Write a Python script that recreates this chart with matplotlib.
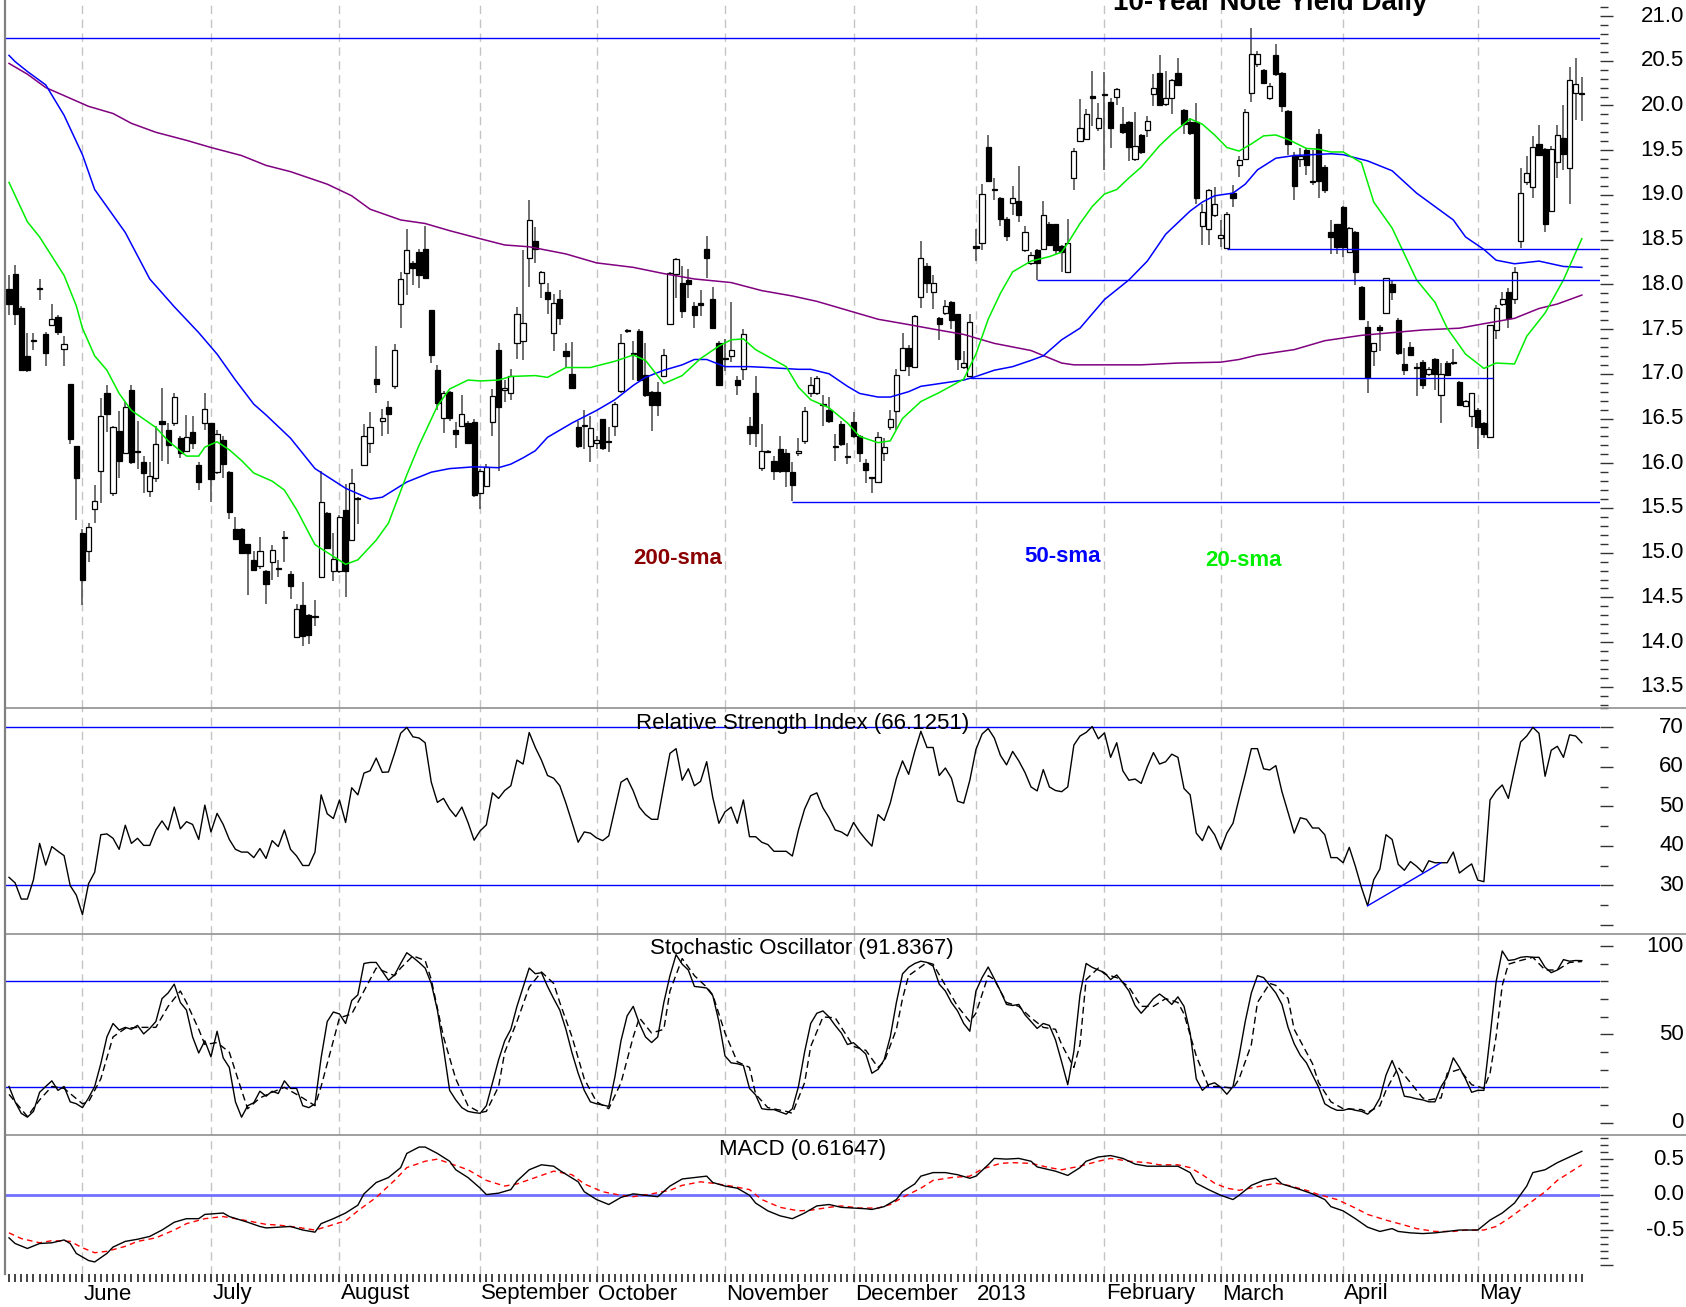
import numpy as np
import matplotlib
matplotlib.use("Agg")
import matplotlib.pyplot as plt
from matplotlib.lines import Line2D
from matplotlib import transforms

plt.rcParams['font.family'] = ['Liberation Sans', 'DejaVu Sans']

# ---------------- data ----------------
title = "10-Year Note Yield Daily"
month_labels = ["June", "July", "August", "September", "October", "November",
                "December", "2013", "February", "March", "April", "May"]
month_start = [12, 33, 54, 77, 96, 117, 138, 158, 179, 198, 218, 240]

opens = [17.95,18.12,17.73,17.20,17.37,17.95,17.45,17.55,17.63,17.28,
16.89,16.19,15.22,15.02,15.49,15.91,16.78,15.67,16.36,16.12,
16.82,16.13,16.01,15.69,15.84,16.47,16.37,16.45,16.28,16.14,
16.35,15.98,16.45,16.45,15.90,16.26,15.90,15.26,15.26,15.10,
14.92,14.85,14.79,14.90,14.82,15.16,14.76,14.06,14.42,14.30,
14.28,14.73,15.44,14.80,14.80,15.48,15.14,15.60,15.98,16.23,
16.94,16.47,16.63,16.86,17.78,18.13,18.24,18.36,18.39,17.71,
17.04,16.51,16.80,16.37,16.42,16.45,16.46,15.67,15.74,16.46,
17.27,16.82,16.78,17.34,17.37,18.29,18.48,18.01,17.92,17.46,
17.84,17.26,17.00,16.41,16.42,16.19,16.23,16.49,16.24,16.42,
16.81,17.48,17.22,17.48,16.99,16.80,16.80,16.98,17.56,18.12,
18.01,18.05,17.76,17.79,18.40,17.84,17.34,17.17,17.20,16.93,
17.05,16.42,16.78,15.95,16.13,16.02,16.16,16.12,15.90,16.12,
16.25,16.78,16.78,16.65,16.60,16.18,16.44,16.07,16.46,16.31,
16.00,15.83,15.79,16.12,16.41,16.58,17.04,17.29,17.08,17.86,
18.21,17.92,17.62,17.68,17.80,17.67,17.08,16.98,18.43,18.46,
19.54,19.05,18.97,18.73,18.91,18.93,18.38,18.24,18.38,18.40,
18.68,18.67,18.43,18.14,19.19,19.60,19.62,20.11,19.75,20.12,
20.04,20.09,19.79,19.82,19.40,19.67,19.73,20.13,20.36,20.02,
20.08,20.36,19.95,19.82,19.82,18.65,18.62,18.77,18.52,18.41,
19.02,19.33,19.40,20.14,20.46,20.40,20.08,20.56,20.36,19.94,
19.45,19.40,19.50,19.14,19.68,19.31,18.58,18.67,18.87,18.36,
18.59,17.97,17.52,17.25,17.52,17.68,18.00,17.60,17.11,17.30,
17.08,17.13,17.00,17.17,16.76,17.12,17.12,16.91,16.64,16.53,
16.60,16.45,16.29,17.49,17.78,17.92,17.84,18.49,19.14,19.09,
19.57,19.51,18.82,19.37,19.64,19.30,20.14,20.13]

highs = [18.10,18.22,17.76,17.46,17.46,18.06,17.47,17.78,17.66,17.42,
16.89,16.19,15.26,15.33,15.76,16.73,16.87,16.42,16.58,16.69,
16.87,16.47,16.08,16.01,16.42,16.84,16.45,16.79,16.30,16.54,
16.53,16.01,16.78,16.45,16.37,16.30,15.91,15.40,15.28,15.10,
15.02,15.18,14.81,15.09,14.92,15.24,14.79,14.43,14.67,14.32,
14.47,15.91,15.45,15.22,15.42,15.77,15.94,15.62,16.44,16.57,
17.31,16.61,16.70,17.33,18.14,18.62,18.26,18.39,18.65,17.71,
17.10,16.81,16.81,16.46,16.76,16.47,16.50,15.94,15.99,16.83,
17.34,16.93,17.05,17.75,18.38,18.94,18.64,18.15,18.02,17.89,
17.94,17.34,17.36,16.47,16.59,16.53,16.30,16.50,16.40,16.69,
17.45,17.50,17.37,17.50,17.34,16.81,16.91,17.28,18.14,18.29,
18.20,18.17,17.80,17.94,18.54,17.97,17.37,17.39,17.80,16.97,
17.50,16.52,16.98,16.44,16.15,16.08,16.31,16.16,16.01,16.28,
16.63,16.96,16.97,16.76,16.74,16.33,16.47,16.23,16.57,16.32,
16.05,15.84,16.35,16.28,16.59,17.05,17.46,17.32,17.66,18.48,
18.24,18.10,17.63,17.83,17.81,17.67,17.25,17.67,18.62,19.12,
19.67,19.19,18.98,18.75,19.10,19.32,18.65,18.36,18.39,18.93,
18.70,18.68,18.44,18.73,19.52,20.07,19.96,20.38,20.03,20.37,
20.08,20.20,19.98,19.83,19.93,19.68,19.88,20.35,20.56,20.38,
20.30,20.53,19.96,19.86,20.03,18.90,19.07,19.09,18.72,18.81,
19.11,19.44,19.96,20.87,20.61,20.41,20.25,20.69,20.37,19.95,
19.48,19.52,19.52,19.50,19.74,19.33,18.72,18.68,18.88,18.64,
18.60,17.98,17.59,17.34,17.54,18.07,18.05,17.62,17.29,17.36,
17.12,17.15,17.08,17.18,17.12,17.14,17.28,16.92,16.71,16.79,
16.62,16.46,17.55,17.77,17.91,17.96,18.19,19.30,19.43,19.66,
19.78,19.52,19.55,19.78,20.01,20.43,20.53,20.32]

lows = [17.66,17.54,17.03,17.02,17.27,17.83,17.09,17.54,17.43,17.09,
16.21,15.36,14.42,14.90,15.33,15.56,16.35,15.63,15.84,16.11,
15.99,15.94,15.67,15.62,15.79,16.03,15.99,16.42,16.06,16.13,
16.16,15.70,16.37,15.57,15.88,15.84,15.38,15.14,14.99,14.53,
14.80,14.82,14.43,14.70,14.73,14.90,14.48,14.05,13.96,13.98,
14.18,14.73,15.05,14.68,14.77,14.51,15.13,15.32,15.98,16.11,
16.78,16.31,16.33,16.83,17.51,17.88,17.99,17.96,18.06,17.12,
16.60,16.34,16.47,16.17,16.40,16.21,15.62,15.49,15.73,16.30,
15.91,16.69,16.71,17.16,17.15,17.97,18.24,17.85,17.67,17.25,
17.54,17.08,16.83,16.17,16.16,16.01,16.16,16.15,16.13,16.30,
16.79,17.46,16.93,16.92,16.74,16.36,16.53,16.97,17.56,17.85,
17.62,17.85,17.51,17.65,18.07,17.50,16.86,17.03,17.13,16.76,
16.93,16.20,16.18,15.91,16.11,15.81,15.89,15.73,15.58,16.08,
16.21,16.74,16.76,16.42,16.45,16.03,16.19,15.99,16.28,16.01,
15.78,15.67,15.79,16.02,16.37,16.37,17.03,16.97,17.07,17.73,
17.90,17.72,17.38,17.66,17.50,17.04,17.05,16.97,18.26,18.38,
19.14,18.94,18.65,18.48,18.77,18.70,18.36,18.22,18.05,18.38,
18.43,18.34,18.14,18.13,19.06,19.59,19.61,19.77,19.72,19.28,
19.52,20.01,19.68,19.38,19.38,19.46,19.65,19.99,20.01,19.99,
19.91,20.22,19.68,19.67,18.90,18.44,18.44,18.75,18.42,18.40,
18.87,19.20,19.39,20.04,20.43,20.24,20.06,20.33,19.93,19.45,
18.94,19.31,19.22,19.11,18.97,19.02,18.34,18.34,18.31,18.35,
17.99,17.60,16.79,17.09,17.25,17.67,17.83,17.21,16.99,17.20,
16.75,16.83,16.98,16.82,16.45,16.98,17.10,16.64,16.63,16.40,
16.16,16.28,16.28,17.39,17.76,17.51,17.78,18.41,19.11,18.97,
19.43,18.59,18.81,19.19,19.28,18.90,19.84,19.83]

closes = [17.78,17.67,17.04,17.04,17.37,17.95,17.23,17.61,17.47,17.33,
16.27,15.83,14.69,15.29,15.58,16.53,16.55,16.40,16.02,16.63,
16.01,16.13,15.89,15.86,16.22,16.44,16.20,16.74,16.11,16.29,
16.23,15.79,16.61,15.82,16.33,15.99,15.45,15.15,15.00,15.00,
14.81,15.02,14.65,15.03,14.82,15.16,14.63,14.37,14.07,14.08,
14.29,15.57,15.05,14.93,15.40,14.80,15.78,15.60,16.30,16.41,
16.89,16.51,16.55,17.27,18.06,18.38,18.18,18.10,18.07,17.21,
16.67,16.79,16.51,16.33,16.55,16.23,15.64,15.91,15.96,16.75,
16.63,16.84,16.97,17.67,17.57,18.72,18.40,18.14,17.84,17.79,
17.62,17.20,16.84,16.19,16.42,16.39,16.26,16.17,16.24,16.66,
17.34,17.48,17.22,16.93,16.76,16.65,16.65,17.21,18.13,18.28,
17.70,18.00,17.66,17.77,18.30,17.51,16.87,17.17,17.27,16.87,
17.44,16.34,16.34,16.14,16.13,15.91,15.91,15.91,15.76,16.12,
16.58,16.88,16.95,16.65,16.47,16.18,16.22,16.07,16.30,16.11,
15.92,15.83,16.29,16.18,16.50,16.99,17.29,17.09,17.65,18.29,
18.02,18.02,17.56,17.76,17.60,17.17,17.12,17.58,18.41,19.01,
19.16,19.05,18.73,18.54,18.97,18.77,18.59,18.33,18.24,18.77,
18.44,18.38,18.36,18.46,19.49,19.75,19.90,20.08,19.86,20.12,
19.75,20.18,19.70,19.53,19.55,19.48,19.83,20.20,20.01,20.08,
20.28,20.23,19.79,19.69,18.97,18.81,19.05,18.90,18.55,18.79,
18.97,19.39,19.93,20.58,20.58,20.25,20.22,20.35,19.99,19.57,
19.10,19.44,19.33,19.16,19.16,19.06,18.53,18.42,18.42,18.63,
18.14,17.61,16.96,17.34,17.49,18.07,17.92,17.23,17.04,17.21,
17.06,16.87,17.05,17.00,17.00,16.99,17.12,16.65,16.70,16.78,
16.41,16.33,17.54,17.73,17.84,17.62,18.14,19.02,19.25,19.54,
19.45,18.67,19.51,19.67,19.46,20.29,20.24,20.13]

# moving averages (day index, value)
sma20_idx = [0,3,5,9,11,12,14,16,18,20,24,26,29,31,32,34,36,38,40,43,45,47,50,55,57,60,62,65,67,70,
             72,75,77,80,82,86,88,91,95,99,102,104,107,110,113,116,118,120,122,127,129,131,134,137,139,142,144,146,149,152,
             156,158,160,162,164,167,170,172,173,175,177,179,181,183,185,188,190,193,195,197,199,201,203,205,207,209,212,214,216,218,
             221,223,226,228,230,233,235,238,241,243,246,248,251,254,257]
sma20_val = [19.14,18.70,18.53,18.10,17.76,17.51,17.20,17.04,16.78,16.59,16.40,16.25,16.08,16.08,16.18,16.24,16.15,16.03,15.89,15.80,
             15.70,15.48,15.09,14.87,14.92,15.14,15.33,15.87,16.20,16.64,16.83,16.93,16.92,16.93,16.97,16.98,16.96,17.07,17.07,17.14,
             17.21,17.15,16.89,16.98,17.17,17.31,17.38,17.39,17.27,17.08,16.85,16.71,16.62,16.45,16.30,16.23,16.25,16.50,16.69,16.79,
             16.94,17.22,17.61,17.90,18.14,18.26,18.31,18.36,18.46,18.68,18.87,19.01,19.06,19.19,19.31,19.55,19.68,19.85,19.79,19.67,
             19.53,19.49,19.57,19.66,19.67,19.62,19.52,19.51,19.48,19.48,19.36,18.92,18.63,18.34,18.05,17.80,17.51,17.22,17.06,17.12,
             17.11,17.42,17.68,18.05,18.51]

sma50_idx = [0,1,3,6,9,12,14,19,23,27,31,34,37,40,42,46,50,55,59,61,65,69,72,76,80,82,84,86,88,92,
             96,99,102,104,107,110,112,114,117,121,124,129,131,134,137,139,142,144,147,149,152,156,158,161,164,167,169,172,175,179,
             183,186,189,193,195,197,200,202,204,207,210,213,216,218,222,226,230,236,238,241,243,246,250,254,257]
sma50_val = [20.56,20.49,20.38,20.23,19.89,19.45,19.06,18.58,18.06,17.75,17.46,17.22,16.93,16.66,16.54,16.28,15.94,15.72,15.60,15.62,
             15.79,15.90,15.94,15.96,15.95,15.99,16.06,16.14,16.29,16.45,16.59,16.71,16.87,16.96,17.04,17.10,17.16,17.16,17.08,17.08,
             17.07,17.05,17.05,17.00,16.86,16.78,16.74,16.74,16.80,16.86,16.89,16.93,16.97,17.04,17.08,17.15,17.20,17.38,17.51,17.83,
             18.05,18.26,18.56,18.82,18.92,18.99,19.02,19.12,19.28,19.41,19.44,19.45,19.46,19.45,19.38,19.27,19.02,18.72,18.53,18.39,
             18.27,18.23,18.26,18.20,18.19]

sma200_idx = [0,3,6,9,13,17,20,24,29,33,38,42,46,52,56,59,64,68,72,77,81,85,91,96,102,107,112,118,123,128,
              132,137,142,147,151,156,161,167,172,174,179,185,191,198,201,204,210,215,221,226,231,237,241,246,250,253,257]
sma200_val = [20.47,20.35,20.20,20.11,19.99,19.91,19.80,19.70,19.61,19.53,19.44,19.33,19.26,19.12,18.99,18.84,18.72,18.68,18.60,18.51,
              18.44,18.42,18.34,18.24,18.19,18.12,18.06,18.02,17.93,17.87,17.81,17.71,17.61,17.55,17.50,17.44,17.34,17.26,17.12,17.10,
              17.10,17.10,17.12,17.13,17.16,17.21,17.27,17.37,17.43,17.46,17.49,17.51,17.56,17.62,17.73,17.78,17.88]

# horizontal support / resistance levels: (level, start index, end index or None = to the edge)
levels = [(20.75, None, None), (18.40, 199, None), (18.05, 168, None),
          (16.95, 157, 242.5), (15.57, 128, None)]

rsi = [32.0,30.6,26.5,26.5,31.4,40.6,35.1,39.8,38.6,37.5,
29.9,27.5,22.6,30.4,33.3,42.8,43.0,41.9,39.1,45.2,
40.6,41.9,40.1,40.1,44.0,46.3,44.0,49.8,44.3,46.1,
45.4,41.6,50.3,43.5,48.2,45.4,41.6,39.1,38.4,38.4,
37.0,39.3,36.8,41.3,39.8,44.0,39.1,37.4,35.0,35.0,
38.4,52.9,48.1,46.9,51.6,45.9,54.7,52.9,58.4,59.0,
62.2,58.6,58.7,63.4,68.5,70.0,67.6,67.3,66.1,56.1,
51.0,52.0,49.3,47.4,49.8,45.9,41.4,43.8,45.3,53.4,
52.0,54.0,55.2,61.7,60.7,68.7,64.9,61.7,57.8,57.1,
55.2,50.8,45.9,40.9,43.5,43.2,42.0,41.3,42.5,49.3,
56.1,57.1,53.9,49.8,47.9,46.7,46.7,55.2,63.4,64.6,
56.6,59.5,55.2,56.3,61.3,52.2,45.7,48.6,49.8,45.7,
51.6,42.3,42.3,40.9,40.3,38.6,38.6,38.6,37.4,44.0,
49.3,52.7,53.4,49.6,47.1,44.0,43.5,42.5,45.9,43.5,
41.6,39.9,47.9,46.4,50.8,57.1,61.5,58.1,63.9,69.0,
64.9,64.9,57.8,59.7,57.1,51.3,50.8,56.6,64.4,68.3,
69.7,67.3,62.9,60.5,63.9,61.5,58.6,54.9,53.9,59.3,
54.9,54.0,53.7,54.9,65.5,67.8,68.7,70.2,67.1,68.6,
62.4,66.1,59.0,56.6,56.9,55.8,60.0,63.6,60.7,61.3,
63.2,62.4,54.5,52.9,43.2,41.3,45.0,42.8,39.1,43.2,
45.7,52.0,58.1,64.6,64.6,59.5,59.2,60.3,53.7,48.4,
43.2,47.1,46.7,44.5,44.5,42.8,37.0,37.0,35.7,39.6,
34.8,29.4,24.8,31.4,34.1,42.8,41.6,35.3,33.8,36.0,
34.8,33.3,36.2,35.7,35.7,35.7,38.4,33.1,34.3,35.4,
31.3,30.9,51.6,53.9,55.4,52.0,59.3,66.3,67.8,70.0,
68.5,57.6,64.2,65.2,62.4,68.1,67.8,66.1]
rsi_trend = ([222, 234], [24.8, 35.7])

stoch_k = [20.5,11.8,5.3,3.1,6.4,17.2,20.5,23.7,18.3,20.5,
11.8,10.7,8.5,14.0,20.5,33.4,48.6,56.2,52.5,54.0,
52.9,55.1,50.3,53.4,57.3,70.3,73.5,78.5,68.1,63.8,
48.6,39.5,46.4,37.3,51.8,36.7,31.3,11.8,3.1,9.6,
11.3,17.8,15.0,17.8,16.5,23.7,19.4,19.4,9.6,8.5,
10.7,36.7,57.3,62.7,61.6,56.2,69.2,72.4,90.2,90.8,
90.8,85.8,80.7,83.7,90.2,96.3,93.7,90.8,87.6,78.9,
63.8,42.1,18.3,12.9,8.5,6.4,5.7,5.3,9.6,22.6,
35.6,46.4,52.9,65.9,76.8,87.6,84.4,85.0,77.2,70.3,
63.8,52.9,39.5,28.0,18.3,11.8,10.7,10.0,9.2,25.9,
46.4,60.5,65.9,56.2,48.6,45.4,48.6,68.1,83.3,95.2,
89.8,86.5,77.2,76.8,76.3,72.0,57.3,37.8,33.9,33.4,
32.4,19.4,15.7,7.9,7.4,7.4,6.1,4.8,7.9,20.5,
40.0,56.2,62.0,63.3,59.9,55.1,50.8,44.3,45.3,42.1,
38.9,28.0,30.2,35.6,48.6,68.1,84.3,88.0,90.2,91.5,
90.8,88.7,78.5,74.6,68.1,63.3,56.2,51.8,74.6,82.2,
88.2,81.5,74.6,67.0,66.4,67.0,61.2,57.3,53.4,56.2,
55.1,46.9,34.5,21.5,40.4,72.4,90.2,88.0,86.5,85.0,
81.1,83.7,79.4,74.6,66.4,62.0,65.9,70.3,72.9,70.3,
67.0,71.3,65.9,50.8,24.8,18.3,21.5,22.6,20.0,16.1,
20.4,37.8,57.3,73.5,83.3,82.2,77.8,73.5,67.0,54.0,
44.7,38.2,33.9,26.9,20.0,10.7,8.5,7.0,7.0,7.9,
7.0,6.4,4.8,7.9,13.9,26.9,35.2,26.9,15.0,14.4,
13.5,12.9,11.8,11.8,20.4,25.9,36.7,31.3,24.8,17.2,
18.3,18.3,48.6,80.0,97.3,91.9,92.4,93.7,94.1,93.7,
93.7,88.0,85.0,86.5,92.4,91.5,91.9,91.8]

stoch_d_idx = [0,3,5,7,9,12,13,15,17,19,21,24,26,28,29,31,32,34,36,38,39,41,43,45,48,50,51,53,54,56,
               57,59,60,63,64,66,68,69,71,73,75,77,78,80,81,83,85,87,89,90,92,94,96,98,100,102,103,105,107,108,
               110,112,114,115,117,119,121,122,124,127,128,130,131,133,135,136,138,140,142,143,145,146,147,150,151,153,155,157,158,160,
               161,163,165,167,169,171,172,174,175,176,178,179,181,183,185,187,189,191,192,194,196,198,200,201,203,204,206,207,209,210,
               213,214,216,218,221,222,224,225,226,227,229,231,232,234,235,237,239,241,242,243,244,245,247,249,251,253,255,257]
stoch_d_val = [16.0,3.5,12.9,20.5,19.4,10.7,11.8,24.8,48.6,53.4,54.0,54.0,65.9,74.6,68.1,52.9,44.3,45.4,39.9,18.3,
               7.9,14.0,17.2,20.0,14.0,9.6,20.5,46.4,59.4,61.6,68.1,81.1,87.6,83.3,87.6,94.5,91.9,81.1,48.6,24.8,
               9.6,5.7,6.4,20.5,39.9,57.3,76.8,85.4,78.9,68.1,48.6,24.8,11.8,7.9,22.6,48.6,59.4,50.8,52.9,74.6,
               93.0,83.3,76.8,72.4,50.8,34.5,31.3,16.1,8.5,6.4,5.3,22.6,43.2,59.9,59.4,54.0,43.2,41.0,31.3,34.5,
               52.9,70.3,83.3,90.8,89.8,77.8,65.9,57.3,62.0,83.3,81.1,68.1,65.9,59.4,54.0,52.9,44.3,31.3,44.3,81.1,
               87.6,84.3,82.2,76.8,65.9,65.9,70.3,68.1,61.6,37.8,20.5,20.5,19.4,24.8,44.3,68.1,78.9,77.8,70.3,52.9,
               33.4,22.6,11.8,7.9,7.4,5.7,9.6,18.3,24.8,31.3,22.6,14.0,12.9,14.0,28.0,30.2,21.5,19.4,28.0,49.0,
               77.8,89.8,91.9,93.7,86.5,86.5,90.8,91.3]

macd_idx = [0,1,3,5,7,9,10,11,13,14,16,17,19,21,23,25,27,29,31,32,35,36,39,41,42,44,46,48,50,51,
            53,55,57,58,60,62,64,65,67,68,70,72,73,75,77,78,80,82,83,85,87,89,90,93,94,96,98,100,102,104,
            106,108,110,112,114,115,117,119,121,122,124,126,128,130,132,134,136,138,140,141,143,145,146,148,149,151,153,155,157,158,
            160,161,163,165,167,168,171,173,175,176,178,180,182,184,186,188,191,193,194,196,198,200,201,203,205,207,208,211,213,215,
            216,218,220,222,224,226,227,229,231,233,235,237,238,240,242,244,246,248,249,251,253,255,257]
macd_val = [-0.61,-0.69,-0.76,-0.69,-0.68,-0.64,-0.69,-0.83,-0.93,-0.95,-0.83,-0.74,-0.66,-0.63,-0.59,-0.50,-0.39,-0.34,-0.34,-0.28,
            -0.26,-0.31,-0.39,-0.45,-0.47,-0.46,-0.45,-0.50,-0.53,-0.41,-0.34,-0.26,-0.15,0.01,0.17,0.24,0.38,0.58,0.67,0.67,
            0.58,0.47,0.35,0.24,0.09,0.00,0.02,0.07,0.19,0.35,0.42,0.40,0.34,0.18,0.04,-0.07,-0.14,-0.04,0.01,-0.01,
            -0.03,0.12,0.22,0.24,0.26,0.17,0.12,0.09,-0.01,-0.12,-0.23,-0.30,-0.34,-0.26,-0.16,-0.14,-0.18,-0.19,-0.20,-0.21,
            -0.17,-0.07,0.04,0.15,0.26,0.31,0.31,0.28,0.23,0.26,0.42,0.51,0.50,0.51,0.47,0.39,0.33,0.27,0.38,0.47,
            0.53,0.55,0.51,0.43,0.40,0.40,0.40,0.31,0.16,0.07,-0.01,-0.07,-0.01,0.13,0.20,0.23,0.15,0.07,0.01,-0.07,
            -0.17,-0.23,-0.34,-0.46,-0.52,-0.48,-0.52,-0.54,-0.55,-0.54,-0.52,-0.50,-0.50,-0.50,-0.36,-0.26,-0.12,0.12,0.31,0.35,
            0.45,0.53,0.61]

signal_idx = [0,2,5,7,10,12,14,16,19,21,24,27,29,32,35,39,42,44,47,50,52,55,57,60,63,65,68,70,72,75,
              78,81,83,86,89,92,94,97,100,102,105,108,110,113,115,118,121,123,126,129,131,134,136,139,142,144,146,149,151,154,
              157,159,162,164,167,170,172,175,178,180,183,186,188,191,193,195,197,199,201,204,207,209,212,214,217,220,222,225,228,230,
              233,236,238,241,243,245,248,251,253,257]
signal_val = [-0.54,-0.62,-0.68,-0.65,-0.66,-0.75,-0.82,-0.80,-0.73,-0.66,-0.61,-0.50,-0.41,-0.34,-0.31,-0.37,-0.42,-0.43,-0.46,-0.50,
              -0.45,-0.37,-0.23,-0.04,0.20,0.38,0.47,0.50,0.44,0.35,0.20,0.12,0.15,0.24,0.33,0.28,0.15,0.04,-0.01,-0.03,
              0.01,0.06,0.13,0.18,0.16,0.12,0.07,-0.07,-0.18,-0.23,-0.22,-0.18,-0.16,-0.19,-0.19,-0.14,-0.04,0.09,0.20,0.24,
              0.26,0.36,0.44,0.45,0.44,0.38,0.35,0.40,0.47,0.51,0.47,0.45,0.42,0.42,0.38,0.28,0.16,0.09,0.06,0.11,
              0.16,0.13,0.06,0.00,-0.07,-0.19,-0.28,-0.36,-0.43,-0.48,-0.52,-0.52,-0.50,-0.50,-0.45,-0.34,-0.15,0.04,0.20,0.42]

# ---------------- figure ----------------
W_PX, H_PX = 1686, 1307
fig = plt.figure(figsize=(W_PX / 100, H_PX / 100), dpi=100)
fig.patch.set_facecolor('white')

def fxp(px):
    return px / W_PX

def fyp(py):
    return 1 - py / H_PX

LEFT, RIGHT = 4.5, 1600
XMIN, XMAX = -0.735, 259.97
LABEL_X = (1684 - LEFT) / (RIGHT - LEFT)

def make_ax(top, bot):
    ax = fig.add_axes([fxp(LEFT), fyp(bot), fxp(RIGHT - LEFT), (bot - top) / H_PX])
    ax.set_xlim(XMIN, XMAX)
    for s in ax.spines.values():
        s.set_visible(False)
    ax.set_xticks([])
    ax.patch.set_alpha(0)
    return ax

ax_p = make_ax(0, 707.6)
ax_r = make_ax(707.6, 934.2)
ax_s = make_ax(934.2, 1135)
ax_m = make_ax(1135, 1274)

ax_p.set_ylim(13.268, 21.179)
ax_r.set_ylim(17.6, 74.9)
ax_s.set_ylim(-7.0, 106.8)
ax_m.set_ylim(-1.12, 0.84)

GRID_KW = dict(color='#c4c4c4', lw=1.0, ls=(0, (6, 4)), zorder=0)
for ax in (ax_p, ax_r, ax_s, ax_m):
    for m in month_start:
        ax.axvline(m, **GRID_KW)

def right_axis(ax, majors, minors, labels, fmt):
    ax.yaxis.tick_right()
    ax.set_yticks(majors)
    ax.set_yticks(minors, minor=True)
    ax.tick_params(axis='y', which='major', length=9.5, width=1.0, color='#333333',
                   direction='out', labelright=False, labelleft=False)
    ax.tick_params(axis='y', which='minor', length=5.8, width=1.0, color='#333333',
                   direction='out')
    tr = transforms.blended_transform_factory(ax.transAxes, ax.transData)
    for v in labels:
        ax.text(LABEL_X, v, fmt.format(v), transform=tr, ha='right', va='center',
                fontsize=16, clip_on=False)

right_axis(ax_p, np.arange(13.5, 21.01, 0.5), np.arange(13.3, 21.15, 0.1),
           np.arange(13.5, 21.01, 0.5), "{:.1f}")
right_axis(ax_r, np.arange(20, 71, 10), np.arange(20, 76, 5), [30, 40, 50, 60, 70], "{:d}")
right_axis(ax_s, [0, 50, 100], np.arange(0, 101, 10), [0, 50, 100], "{:d}")
right_axis(ax_m, [-1.0, -0.5, 0.0, 0.5], np.arange(-1.0, 0.81, 0.1), [-0.5, 0.0, 0.5], "{:.1f}")

# ---------------- price panel ----------------
x = np.arange(len(closes))
o = np.array(opens); h = np.array(highs); l = np.array(lows); c = np.array(closes)
ax_p.vlines(x, l, h, color='#555555', lw=1.2, zorder=2)
up = c >= o
body_bot = np.minimum(o, c)
body_h = np.maximum(np.abs(c - o), 0.012)
ax_p.bar(x[up], body_h[up], bottom=body_bot[up], width=0.85, color='white',
         edgecolor='black', linewidth=0.9, zorder=3)
ax_p.bar(x[~up], body_h[~up], bottom=body_bot[~up], width=0.85, color='black',
         edgecolor='black', linewidth=0.9, zorder=3)

ax_p.plot(sma200_idx, sma200_val, color='#800080', lw=1.1, zorder=4)
ax_p.plot(sma50_idx, sma50_val, color='#0000ff', lw=1.1, zorder=4)
ax_p.plot(sma20_idx, sma20_val, color='#00ee00', lw=1.1, zorder=4)

for lev, x0, x1 in levels:
    ax_p.hlines(lev, XMIN if x0 is None else x0, XMAX if x1 is None else x1,
                color='#0000ff', lw=1.0, zorder=4)

ax_p.text(0.422, 0.2114, "200-sma", transform=ax_p.transAxes, color='#8b0000',
          fontsize=16, fontweight='bold', ha='center', va='center')
ax_p.text(0.6634, 0.2142, "50-sma", transform=ax_p.transAxes, color='#0000ff',
          fontsize=16, fontweight='bold', ha='center', va='center')
ax_p.text(0.7766, 0.2072, "20-sma", transform=ax_p.transAxes, color='#00ee00',
          fontsize=16, fontweight='bold', ha='center', va='center')

# ---------------- RSI ----------------
ax_r.axhline(70, color='#0000ff', lw=1.0, zorder=1)
ax_r.axhline(30, color='#0000ff', lw=1.0, zorder=1)
ax_r.plot(x, rsi, color='black', lw=1.0, zorder=3)
ax_r.plot(rsi_trend[0], rsi_trend[1], color='#0000ff', lw=1.0, zorder=3)
ax_r.text(0.5, 0.907, "Relative Strength Index ({})".format("66.1251"),
          transform=ax_r.transAxes, ha='center', va='baseline', fontsize=16)

# ---------------- Stochastic ----------------
ax_s.axhline(80, color='#0000ff', lw=1.0, zorder=1)
ax_s.axhline(20, color='#0000ff', lw=1.0, zorder=1)
ax_s.plot(x, stoch_k, color='black', lw=1.0, zorder=3)
ax_s.plot(stoch_d_idx, stoch_d_val, color='black', lw=1.0, ls=(0, (5, 3)), zorder=3)
ax_s.text(0.5, 0.899, "Stochastic Oscillator ({})".format("91.8367"),
          transform=ax_s.transAxes, ha='center', va='baseline', fontsize=16)

# ---------------- MACD ----------------
ax_m.axhline(0, color='#7070ff', lw=2.0, zorder=1)
ax_m.plot(signal_idx, signal_val, color='#ff0000', lw=1.0, ls=(0, (4, 3)), zorder=3)
ax_m.plot(macd_idx, macd_val, color='black', lw=1.0, zorder=3)
ax_m.text(0.5, 0.853, "MACD ({})".format("0.61647"),
          transform=ax_m.transAxes, ha='center', va='baseline', fontsize=16)

# bottom daily ticks and month labels
ax_m.set_xticks(x, minor=True)
ax_m.tick_params(axis='x', which='minor', length=5.8, width=1.2, color='#222222',
                 direction='out', bottom=True, labelbottom=False)
btr = transforms.blended_transform_factory(ax_m.transData, fig.transFigure)
for m, lab in zip(month_start, month_labels):
    ax_m.plot([m, m], [fyp(1274), fyp(1285)], transform=btr, clip_on=False, **GRID_KW)
    ax_m.text(m + 0.2, fyp(1283.5), lab, transform=btr, ha='left', va='top',
              fontsize=16, clip_on=False)

# ---------------- frame lines ----------------
for yy in (707.6, 934.2, 1135):
    fig.add_artist(Line2D([fxp(LEFT), 1.0], [fyp(yy), fyp(yy)], color='#909090', lw=1.2))
fig.add_artist(Line2D([fxp(LEFT), fxp(LEFT)], [fyp(1274), 1.0], color='#808080', lw=1.6))

fig.text(fxp(1270), fyp(10), title, ha='center', va='baseline', fontsize=20,
         fontweight='bold')

fig.savefig("out.png", dpi=100, facecolor='white')
